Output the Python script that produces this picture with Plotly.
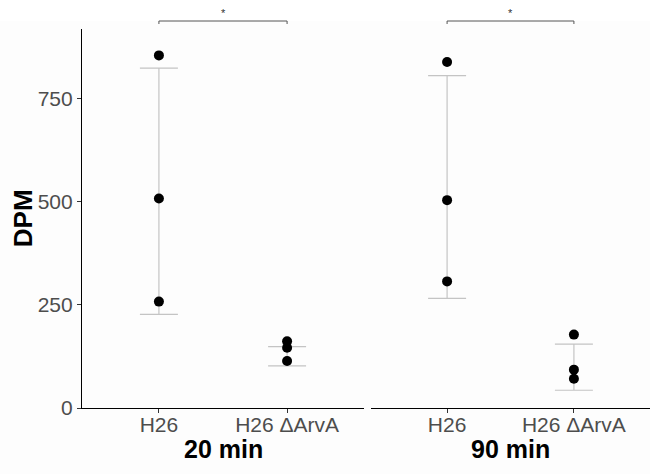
import plotly.graph_objects as go

# ---- data ----
categories = ["H26", "H26 ΔArvA"]
panels = ["20 min", "90 min"]

# individual points (DPM)
pts_20_h26 = [855, 508, 258]
pts_20_arva = [162, 146, 114]
pts_90_h26 = [839, 504, 307]
pts_90_arva = [178, 93, 71]

# error bar limits (lower, upper) per category
err_20_low = [227, 102]
err_20_high = [824, 149]
err_90_low = [266, 43]
err_90_high = [806, 155]

sig_label = "*"

FONT = "Liberation Sans, Arial, sans-serif"
ERR_COL = "#c4c4c4"

fig = go.Figure()

def add_panel(xaxis, pts_a, pts_b, lo, hi):
    center = [(l + h) / 2 for l, h in zip(lo, hi)]
    half = [(h - l) / 2 for l, h in zip(lo, hi)]
    fig.add_trace(go.Scatter(
        x=categories, y=center, mode="markers",
        marker=dict(size=1, color="rgba(0,0,0,0)"),
        error_y=dict(type="data", array=half, symmetric=True,
                     color=ERR_COL, thickness=1.2, width=19),
        xaxis=xaxis, yaxis="y", showlegend=False, hoverinfo="skip"))
    xs = [categories[0]] * len(pts_a) + [categories[1]] * len(pts_b)
    ys = list(pts_a) + list(pts_b)
    fig.add_trace(go.Scatter(
        x=xs, y=ys, mode="markers",
        marker=dict(size=10, color="black"),
        xaxis=xaxis, yaxis="y", showlegend=False))

add_panel("x", pts_20_h26, pts_20_arva, err_20_low, err_20_high)
add_panel("x2", pts_90_h26, pts_90_arva, err_90_low, err_90_high)

W, H = 650, 474
ML, MR, MT, MB = 82, 0, 29, 66
pw = W - ML - MR
ph = H - MT - MB
d1_end = (364 - ML) / pw
d2_start = (371 - ML) / pw

xcommon = dict(
    type="category", range=[-0.6, 1.6], showgrid=False, zeroline=False,
    showline=True, linecolor="black", linewidth=1.2,
    ticks="outside", ticklen=4, tickcolor="#333333", tickwidth=1,
    tickfont=dict(family=FONT, size=21, color="#4d4d4d"),
    ticklabelstandoff=-6,
    categoryorder="array", categoryarray=categories, fixedrange=True,
)

fig.update_layout(
    width=W, height=H,
    margin=dict(l=ML, r=MR, t=MT, b=MB, pad=0),
    paper_bgcolor="#fdfdfd", plot_bgcolor="#fdfdfd",
    xaxis=dict(domain=[0, d1_end], anchor="y", **xcommon),
    xaxis2=dict(domain=[d2_start, 1], anchor="y", **xcommon),
    yaxis=dict(
        range=[0, 919], tickvals=[0, 250, 500, 750], showgrid=False,
        zeroline=False, showline=True, linecolor="black", linewidth=1.2,
        ticks="outside", ticklen=4, tickcolor="#333333",
        tickfont=dict(family=FONT, size=21, color="#4d4d4d"),
        anchor="x", fixedrange=True,
    ),
    font=dict(family=FONT),
)

# white strip at very top (outside the panel)
fig.add_shape(type="rect", xref="paper", yref="paper",
              x0=-ML / pw, x1=1, y0=1 + (MT - 21) / ph, y1=1 + MT / ph,
              fillcolor="white", line_width=0, layer="below")

# significance brackets
yb = 1 + (MT - 21) / ph
ytick = 1 + (MT - 24) / ph
for xr in ["x", "x2"]:
    fig.add_shape(type="line", xref=xr, yref="paper",
                  x0=0, x1=1, y0=yb, y1=yb, line=dict(color="#555555", width=1))
    for xv in [0, 1]:
        fig.add_shape(type="line", xref=xr, yref="paper",
                      x0=xv, x1=xv, y0=yb, y1=ytick,
                      line=dict(color="#555555", width=1))
    fig.add_annotation(x=0.5, y=1 + (MT - 13) / ph, xref=xr, yref="paper",
                       text=sig_label, showarrow=False,
                       font=dict(family=FONT, size=11, color="#333333"),
                       yanchor="middle")

# y-axis title
fig.add_annotation(x=(22.7 - ML) / pw, y=0.5, xref="paper", yref="paper",
                   text="<b>DPM</b>", textangle=-90, showarrow=False,
                   font=dict(family=FONT, size=26, color="black"),
                   xanchor="center", yanchor="middle")

# facet labels at bottom
for xr, lab in zip(["x domain", "x2 domain"], panels):
    fig.add_annotation(x=0.5, y=-(449 - (MT + ph)) / ph, xref=xr, yref="paper",
                       text=f"<b>{lab}</b>", showarrow=False,
                       font=dict(family=FONT, size=25, color="black"),
                       xanchor="center", yanchor="middle")

fig.write_html(
    "out.html",
    config={"displayModeBar": False},
    post_script="document.body.style.margin='0';document.body.style.padding='0';",
)
